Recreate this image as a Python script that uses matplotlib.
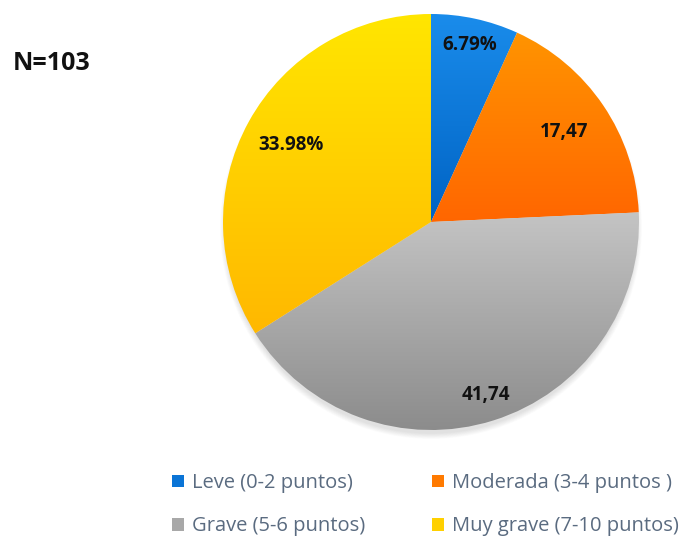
import numpy as np
import matplotlib.pyplot as plt
from matplotlib.colors import LinearSegmentedColormap
from matplotlib.patches import Patch, Circle

# data
labels = ['Leve (0-2 puntos)', 'Moderada (3-4 puntos )', 'Grave (5-6 puntos)', 'Muy grave (7-10 puntos)']
values = [6.79, 17.47, 41.74, 33.98]
value_text = ['6.79%', '17,47', '41,74', '33.98%']
label_dist = [0.87, 0.77, 0.87, 0.77]

top_colors = ['#1a8ceb', '#ff9400', '#c4c4c4', '#ffe600']
bottom_colors = ['#0063c4', '#ff6600', '#8c8c8c', '#ffb800']
legend_colors = ['#0a74d6', '#ff7a00', '#a8a8a8', '#ffd000']

fig = plt.figure(figsize=(6.98, 5.38), dpi=100)
ax = fig.add_axes([0, 0, 1, 1])

cx, cy, R = 431, 538 - 222, 208

# soft shadow under the pie
for i in range(10):
    ax.add_patch(Circle((cx, cy - 6), R + 3 - i * 0.6, color='black', alpha=0.01, lw=0, zorder=0))

wedges, _ = ax.pie(values, radius=R, center=(cx, cy), startangle=90, counterclock=False,
                   frame=True, wedgeprops=dict(linewidth=0))
ax.set_xlim(0, 698)
ax.set_ylim(0, 538)
ax.set_aspect('equal')
ax.axis('off')

for w, c0, c1 in zip(wedges, top_colors, bottom_colors):
    w.set_facecolor('none')
    ext = w.get_path().get_extents()
    cmap = LinearSegmentedColormap.from_list('g', [c1, c0])
    grad = np.linspace(0, 1, 256).reshape(-1, 1)
    im = ax.imshow(grad, cmap=cmap, origin='lower', aspect='auto',
                   extent=[ext.x0, ext.x1, ext.y0, ext.y1], zorder=1)
    im.set_clip_path(w)

# value labels
start = 90
for v, t, d in zip(values, value_text, label_dist):
    mid = np.deg2rad(start - v * 3.6 / 2)
    start -= v * 3.6
    ax.text(cx + d * R * np.cos(mid), cy + d * R * np.sin(mid), t, ha='center', va='center',
            fontsize=13.5, fontweight='bold', family='Open Sans', color='#111111', zorder=3)

ax.text(13, 538 - 64, 'N=103', fontsize=18, fontweight='bold', family='Open Sans',
        va='center', ha='left', color='#111111')

handles = [Patch(facecolor=c, edgecolor='none', label=l) for c, l in zip(legend_colors, labels)]
order = [0, 2, 1, 3]
leg = ax.legend([handles[i] for i in order], [labels[i] for i in order], ncol=2,
                loc='upper left', bbox_to_anchor=(164 / 698, 1 - 465 / 538), frameon=False,
                prop=dict(family='Open Sans', size=14.5), handlelength=0.6, handleheight=0.6,
                handletextpad=0.4, labelspacing=1.15, columnspacing=3.3, borderaxespad=0)
for t in leg.get_texts():
    t.set_color('#5a6b80')

fig.savefig('out.png', dpi=100)
